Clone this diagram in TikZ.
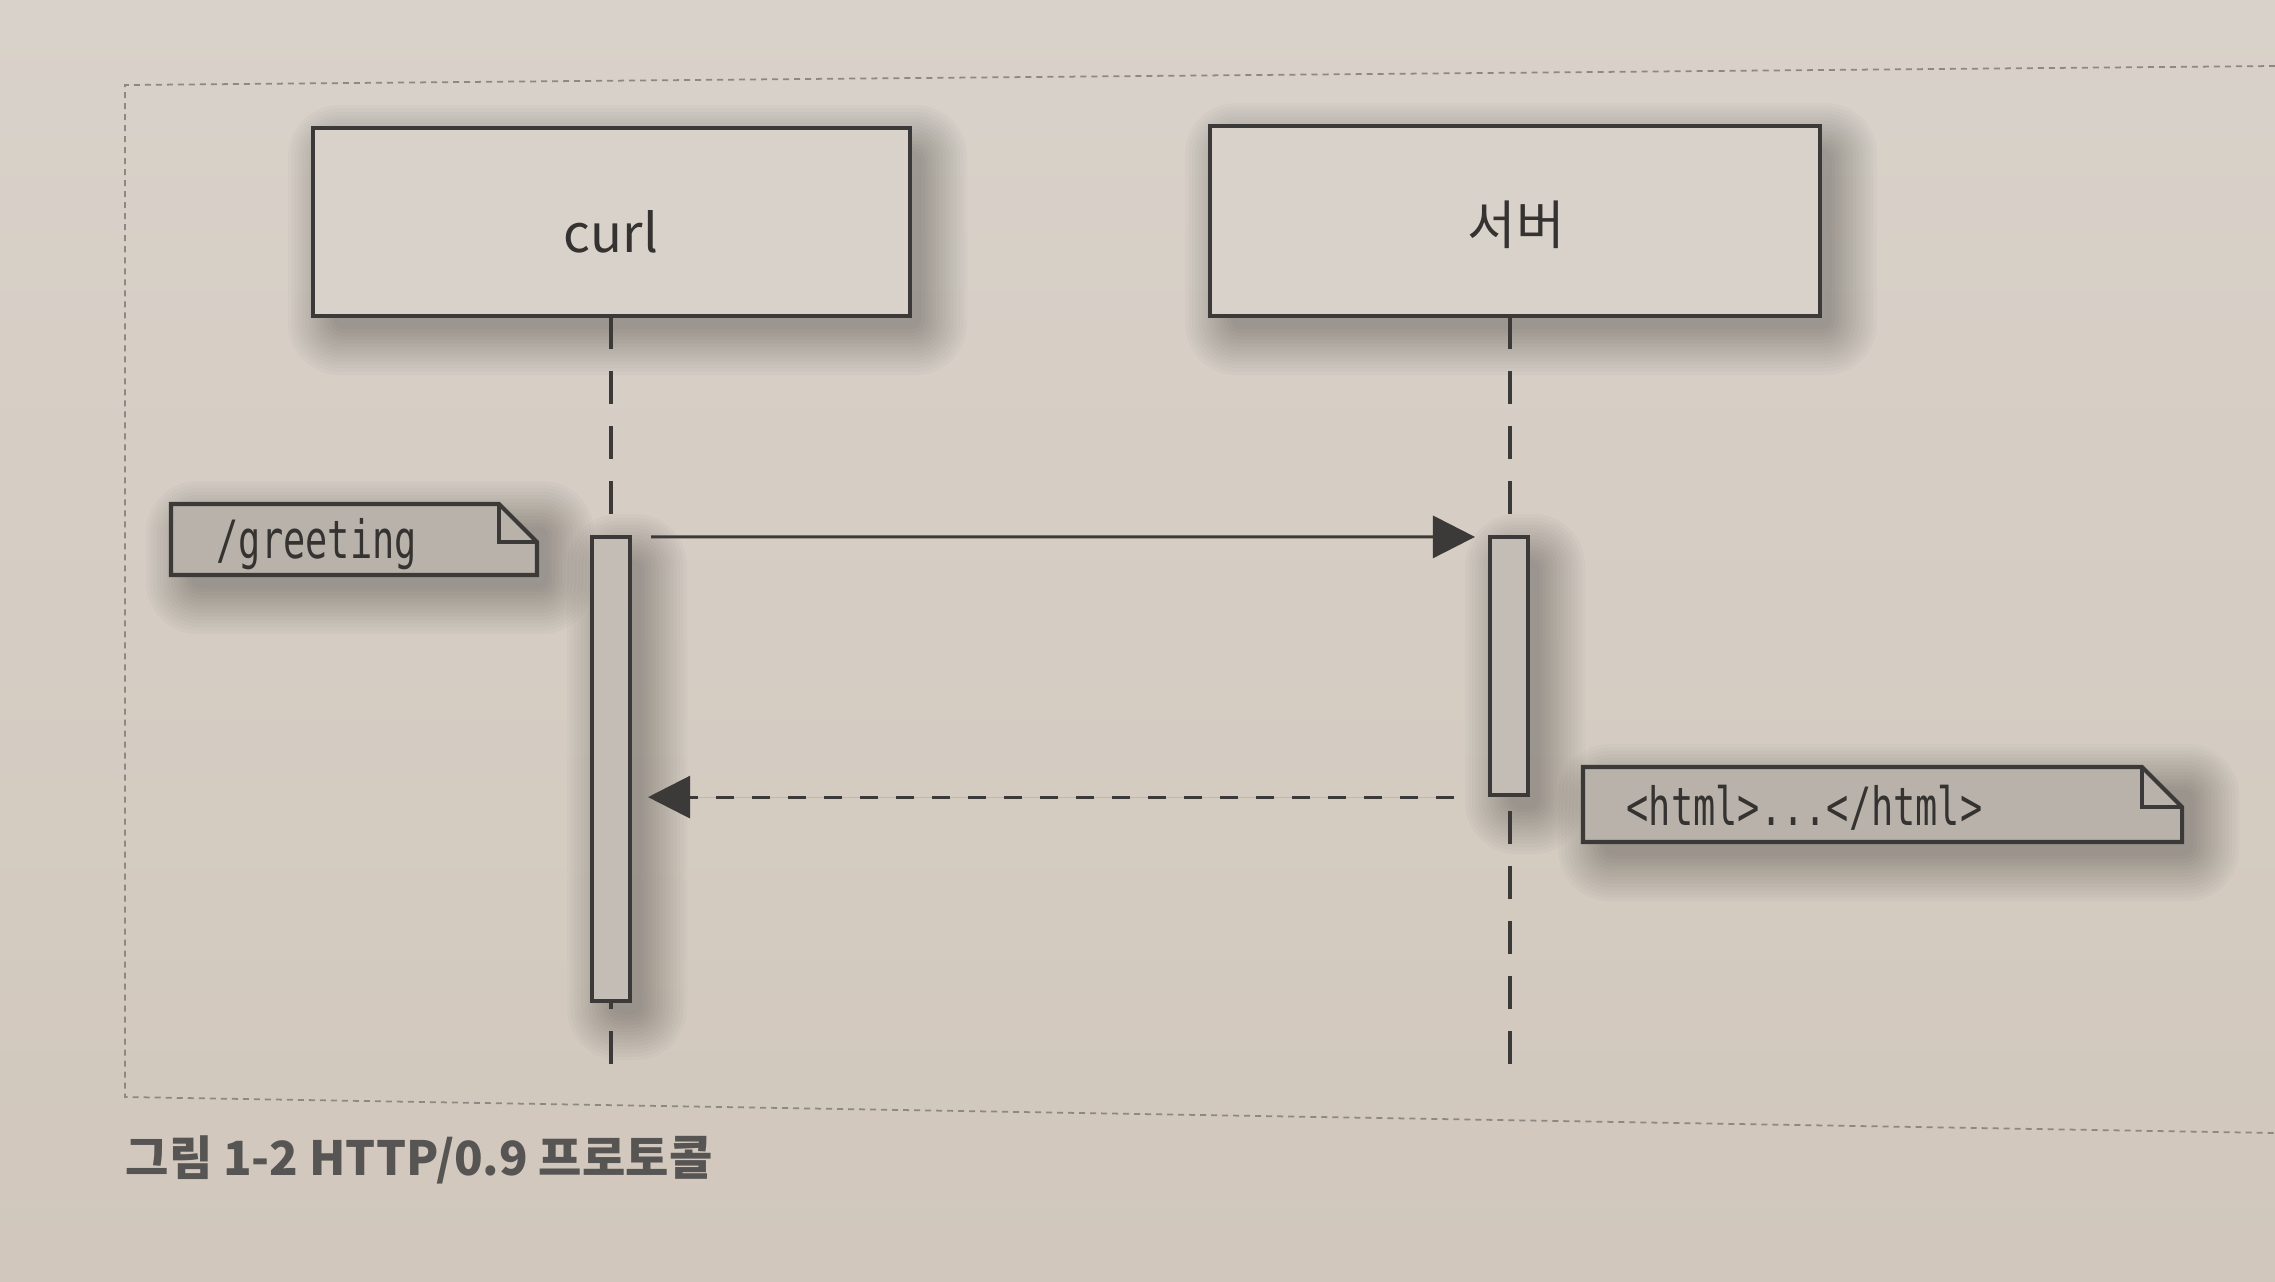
\documentclass[tikz,border=0pt]{standalone}
\usepackage{fontspec}
\setmainfont{Noto Sans CJK KR}
\newfontfamily\notefont[FakeStretch=0.7]{DejaVu Sans Mono}
\usetikzlibrary{arrows.meta}
\definecolor{bgtop}{HTML}{D9D2CA}
\definecolor{bgbot}{HTML}{D1C7BC}
\definecolor{boxfill}{HTML}{D9D2CA}
\definecolor{actfill}{HTML}{C4BDB5}
\definecolor{notefill}{HTML}{B9B2AA}
\definecolor{ink}{HTML}{3C3A38}
\definecolor{txt}{HTML}{353331}
\definecolor{framec}{HTML}{8E8882}
\definecolor{captxt}{HTML}{575553}
\newcommand\mkshadow[4]{%
  \foreach \k [evaluate=\k as \r using 2+\k*0.9] in {1,...,14}{%
    \fill[black, opacity=0.02, rounded corners=\r pt]
      (#1+24-\k*3.5, #2+26-\k*3.5) rectangle (#3+8+\k*3.5, #4+10+\k*3.5);
  }%
}
\tikzset{
  actor/.style={draw=ink, line width=1.15pt, fill=boxfill, rectangle, inner sep=0pt},
  actorlabel/.style={font=\fontsize{15}{18}\selectfont, text=txt, anchor=base, inner sep=0pt},
  lifeline/.style={draw=ink, line width=1pt, dash pattern=on 0.33cm off 0.22cm},
  activation/.style={draw=ink, line width=1.15pt, fill=actfill, rectangle, inner sep=0pt, minimum width=0.38cm},
  notebox/.style={draw=ink, line width=1.15pt, fill=notefill, line join=miter},
  foldline/.style={draw=ink, line width=1.15pt},
  notetext/.style={font=\notefont\fontsize{15}{18}\selectfont, text=txt, anchor=base west, inner sep=0pt},
  msg/.style={draw=ink, line width=0.9pt, -{Triangle[length=0.42cm,width=0.42cm]}, fill=ink},
  reply/.style={draw=ink, line width=0.9pt, dash pattern=on 0.18cm off 0.18cm, -{Triangle[length=0.42cm,width=0.42cm]}, fill=ink},
  pageframe/.style={draw=framec, line width=0.5pt, dash pattern=on 0.06cm off 0.05cm},
  caption/.style={font=\bfseries\fontsize{13.4}{16}\selectfont, text=captxt, anchor=base west, inner sep=0pt}
}
\begin{document}
\begin{tikzpicture}[x=0.01cm, y=-0.01cm]
\shade[top color=bgtop, bottom color=bgbot] (0,0) rectangle (2275,1281);
\useasboundingbox (0,0) rectangle (2275,1281);

% page frame (dashed)
\coordinate (ftl) at (125,85);
\coordinate (ftr) at (2275,66);
\coordinate (fbl) at (125,1097);
\coordinate (fbr) at (2275,1133);
\draw[pageframe] (ftr) -- (ftl) -- (fbl) -- (fbr);

% shadows
\mkshadow{313}{128}{910}{316}
\mkshadow{1210}{126}{1820}{316}
\mkshadow{592}{537}{630}{1001}
\mkshadow{1490}{537}{1528}{795}
\mkshadow{171}{504}{537}{575}
\mkshadow{1583}{767}{2182}{842}

% actors
\node[actor, minimum width=5.97cm, minimum height=1.88cm] (curl) at (611.5,222) {};
\node[actorlabel] (curllabel) at (611,252) {curl};
\node[actor, minimum width=6.10cm, minimum height=1.90cm] (server) at (1515,221) {};
\node[actorlabel] (serverlabel) at (1516,244) {서버};

% lifelines
\coordinate (curltop) at (611,316);
\coordinate (curlend) at (611,1074);
\coordinate (servertop) at (1510,316);
\coordinate (serverend) at (1510,1074);
\draw[lifeline] (curltop) -- (curlend);
\draw[lifeline] (servertop) -- (serverend);

% activations
\node[activation, minimum height=4.64cm] (act1) at (611,769) {};
\node[activation, minimum height=2.58cm] (act2) at (1509,666) {};

% messages
\draw[msg] ([xshift=0.19cm,yshift=-0.02cm]act1.north east) -- ([xshift=-0.13cm,yshift=-0.02cm]act2.north west);
\coordinate (replyend) at (act1.east |- act2.south);
\draw[reply] ([xshift=-0.34cm]act2.south west) -- ([xshift=0.16cm]replyend);

% note 1
\coordinate (n1a) at (171,504);
\coordinate (n1b) at (499,504);
\coordinate (n1c) at (537,542);
\coordinate (n1d) at (537,575);
\coordinate (n1e) at (171,575);
\coordinate (n1f) at (499,542);
\path[notebox] (n1a) -- (n1b) -- (n1c) -- (n1d) -- (n1e) -- cycle;
\draw[foldline] (n1b) -- (n1f) -- (n1c);
\node[notetext] (note1) at (216,558) {/greeting};

% note 2
\coordinate (n2a) at (1583,767);
\coordinate (n2b) at (2142,767);
\coordinate (n2c) at (2182,807);
\coordinate (n2d) at (2182,842);
\coordinate (n2e) at (1583,842);
\coordinate (n2f) at (2142,807);
\path[notebox] (n2a) -- (n2b) -- (n2c) -- (n2d) -- (n2e) -- cycle;
\draw[foldline] (n2b) -- (n2f) -- (n2c);
\node[notetext] (note2) at (1626,825) {<html>...</html>};

% caption
\node[caption] (cap) at (125,1175) {그림 1-2 HTTP/0.9 프로토콜};
\end{tikzpicture}
\end{document}
